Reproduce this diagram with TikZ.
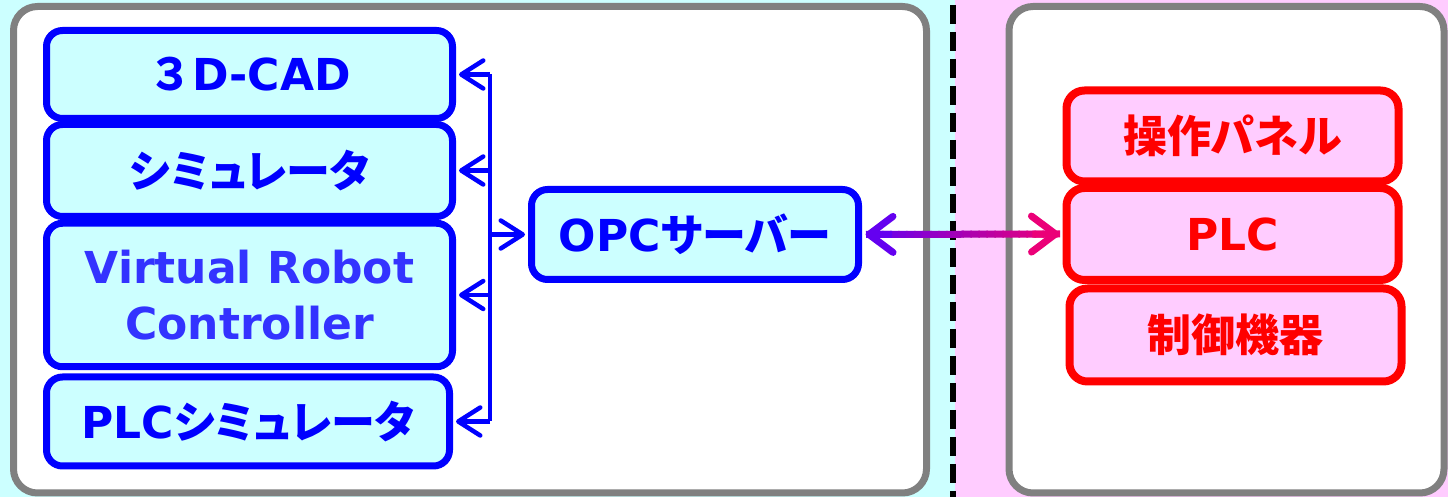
\documentclass[tikz,border=0pt]{standalone}
\usepackage{fontspec}
\setmainfont{DejaVu Sans}
\newfontfamily\jfont{Noto Sans CJK JP}[RawFeature=+palt]
\newfontfamily\jwide{Noto Sans CJK JP}
\usetikzlibrary{positioning,arrows.meta,calc}

\definecolor{cyanbg}{RGB}{204,255,255}
\definecolor{pinkbg}{RGB}{255,204,255}
\definecolor{framegray}{RGB}{128,128,128}
\definecolor{vrcblue}{RGB}{51,51,255}
\definecolor{linkL}{RGB}{100,0,240}
\definecolor{linkR}{RGB}{235,0,120}

\tikzset{
  frame/.style={draw=framegray, fill=white, line width=3.5pt, rounded corners=12pt},
  simbox/.style={draw=blue, fill=cyanbg, line width=3.5pt, rounded corners=8pt, text=blue,
    minimum width=203pt, align=center, inner sep=0pt},
  devbox/.style={draw=red, fill=pinkbg, line width=4pt, rounded corners=9pt, text=red,
    minimum width=166pt, minimum height=46pt, inner sep=0pt},
  bus/.style={blue, line width=2.25pt},
  bustip/.style={bus, -{Straight Barb[length=11pt,width=14pt,round]}, shorten >=1.5pt},
  linktip/.style={line width=3.5pt, -{Straight Barb[length=12pt,width=18pt,round]}, shorten >=1.75pt},
}

\begin{document}
\begin{tikzpicture}[x=0.5pt, y=-0.5pt, every node/.style={font=\bfseries\fontsize{22}{28}\selectfont}]
        \useasboundingbox (0,0) rectangle (1448,497);
        \fill[cyanbg] (0,0) rectangle (955,497);
        \fill[pinkbg] (955,0) rectangle (1448,497);
        \draw[black, line width=3.25pt, dash pattern=on 9.5pt off 4pt] (953,5) -- (953,497);
        \draw[frame] (13.5,6.5) rectangle (926.5,493);
        \draw[frame] (1009,6.5) rectangle (1444,493);

        % simulation side
        \node (cad) at (249.5,74.5) [simbox, minimum height=44pt] {{\jwide ３}D-CAD};
        \node (sim) at (249.5,170.5) [simbox, minimum height=46pt] {\jfont シミュレータ};
        \node (vrc) at (249.5,295) [simbox, minimum height=71.75pt, text=vrcblue] {Virtual Robot\\Controller};
        \node (plcsim) at (248,421.5) [simbox, minimum height=44.5pt, minimum width=201.5pt] {PLC{\jfont シミュレータ}};
        \node (opc) at (695,234.5) [simbox, minimum width=163.5pt, minimum height=45pt] {OPC{\jfont サーバー}};

        % real side
        \node (panel) at (1232.5,136) [devbox, minimum height=45.5pt] {\jfont 操作パネル};
        \node (plc) at (1232.5,234) [devbox] {PLC};
        \node (ctrl) at (1235.5,335) [devbox, minimum height=46.5pt] {\jfont 制御機器};

        \coordinate (jc) at (490,234.5);
        \draw[bus] (cad.east -| jc) -- (plcsim.east -| jc);
        \foreach \n in {cad,sim,vrc,plcsim}
          \draw[bustip] (\n.east -| jc) -- (\n.east);
        \draw[bustip] (jc) -- (opc.west);

        \coordinate (la) at ($(opc.east)+(2pt,0)$);
        \coordinate (lb) at ($(plc.west)-(2pt,0)$);
        \foreach \i [evaluate=\i as \p using \i*100/23] in {0,...,23}
          \draw[linkR!\p!linkL, line width=3.5pt] ($(la)!\i/24!(lb)$) -- ($(la)!{(\i+1.2)/24}!(lb)$);
        \draw[linktip, linkL] ($(opc.east)!0.15!(plc.west)$) -- (opc.east);
        \draw[linktip, linkR] ($(opc.east)!0.85!(plc.west)$) -- (plc.west);
\end{tikzpicture}
\end{document}
